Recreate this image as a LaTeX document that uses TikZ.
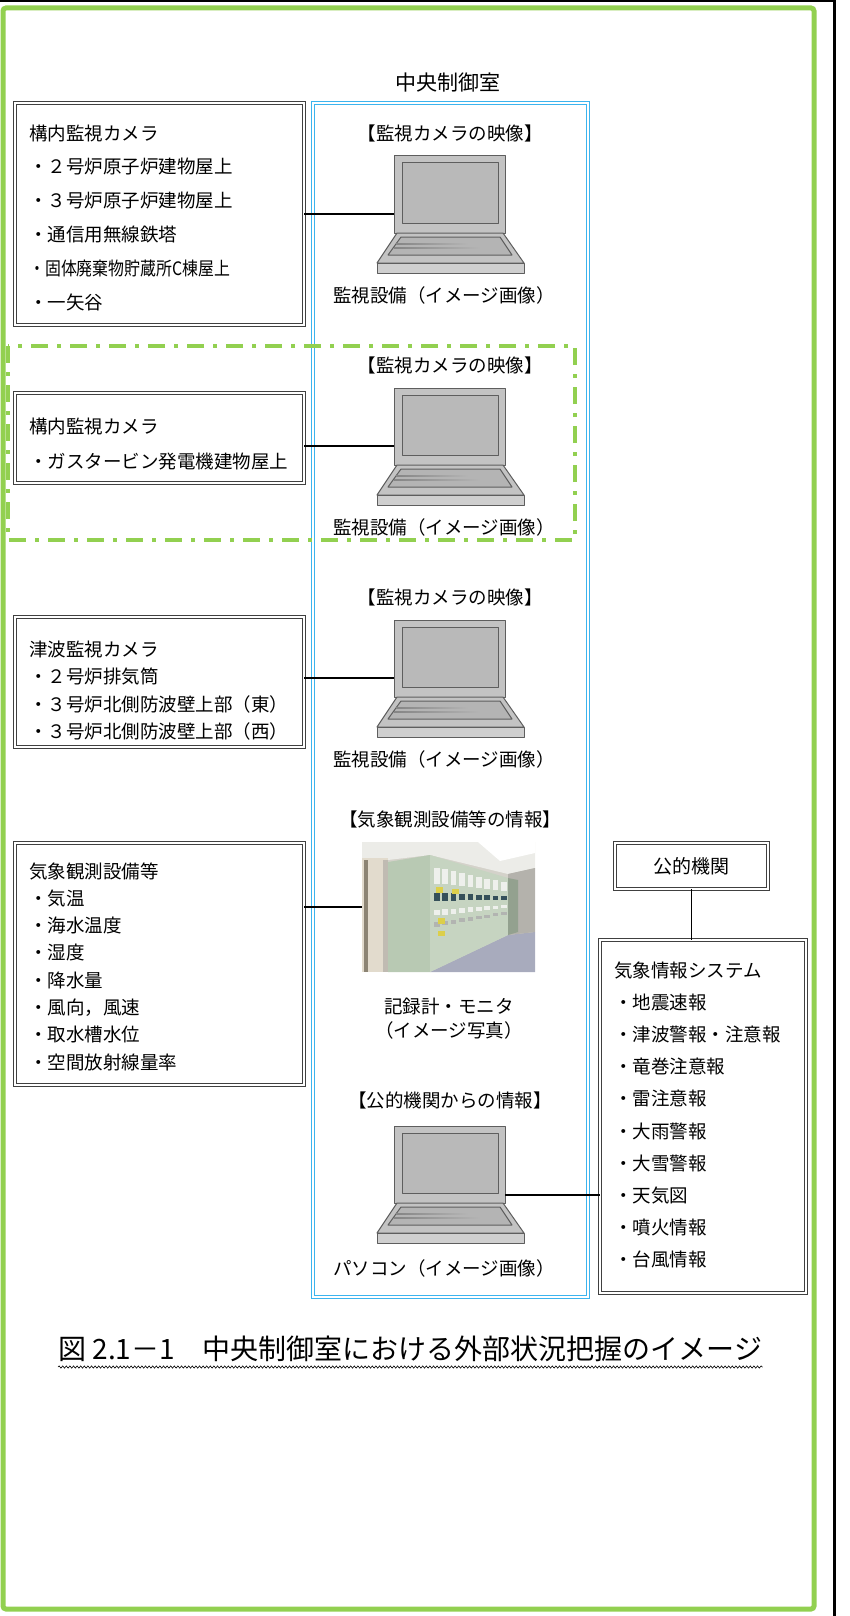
\documentclass[tikz,border=0pt]{standalone}
\usepackage{fontspec}
\usepackage{graphicx}
\setmainfont{Noto Sans CJK JP}
\usetikzlibrary{decorations.pathmorphing}
\definecolor{framegreen}{HTML}{92D050}
\definecolor{roomblue}{HTML}{3CB4EE}
\definecolor{laptopgray}{HTML}{C3C3C3}
\definecolor{screengray}{HTML}{B9B9B9}
\definecolor{keygray}{HTML}{B4B4B4}
\definecolor{plategray}{HTML}{CFCFCF}
\definecolor{laptopline}{HTML}{5E5E5E}
\definecolor{streakgray}{HTML}{858585}
\definecolor{ceilwhite}{HTML}{ECECE8}
\definecolor{wallbeige}{HTML}{E2DBCD}
\definecolor{doorbrown}{HTML}{8C8474}
\definecolor{photowall}{HTML}{D4D2CA}
\definecolor{floorblue}{HTML}{A8ABBD}
\definecolor{cabside}{HTML}{B8C9B3}
\definecolor{cabface}{HTML}{C6D4C1}
\definecolor{meterwhite}{HTML}{EEF0EC}
\definecolor{switchdark}{HTML}{35505A}
\definecolor{stickeryellow}{HTML}{DCCF4A}
\begin{document}
\begin{tikzpicture}[x=1pt, y=-1pt,
    boxtext/.style={anchor=west, inner sep=0pt, font=\fontsize{18.5pt}{22pt}\selectfont},
    imgtext/.style={inner sep=0pt, font=\fontsize{18.5pt}{22pt}\selectfont},
    listbox/.style={draw=black!75, double=white, double distance=2.2pt, line width=1.1pt, inner sep=0pt, outer sep=0pt},
    roombox/.style={draw=roomblue, double=white, double distance=1.8pt, line width=1.1pt, inner sep=0pt, outer sep=0pt},
    link/.style={line width=1.6pt},
    laptop/.style={draw=laptopline, fill=laptopgray, line width=1pt, line join=round},
    wavy/.style={decorate, decoration={snake, amplitude=1.1pt, segment length=3.6pt}, line width=0.6pt}]
  \useasboundingbox (0,0) rectangle (849,1616);
  \def \textleft{29};
  \def \infoleft{614};

  % Draw the page frame.
  \draw[line width=2.5pt] (0,1.2) -- (834,1.2);
  \draw[line width=3pt] (834,0) -- (834,1616);
  \draw[framegreen, line width=5pt, rounded corners=3pt] (3,8) rectangle (814,1609);

  % Draw the control room box.
  \node[roombox, minimum width=275pt, minimum height=1194pt] (room) at (450.5,700) {};
  \node[inner sep=0pt, font=\fontsize{21pt}{24pt}\selectfont] (roomtitle) at (448,83) {中央制御室};

  % Draw the list boxes on the left.
  \node[listbox, minimum width=289pt, minimum height=222pt] (camA) at (159.5,214) {};
  \node[listbox, minimum width=289pt, minimum height=90pt] (camB) at (159.5,438) {};
  \node[listbox, minimum width=289pt, minimum height=130pt] (camC) at (159.5,682) {};
  \node[listbox, minimum width=289pt, minimum height=242pt] (weather) at (159.5,964) {};

  \foreach \t [count=\i] in {構内監視カメラ, ・２号炉原子炉建物屋上, ・３号炉原子炉建物屋上, ・通信用無線鉄塔, {\scalebox{0.86}[1]{・固体廃棄物貯蔵所C棟屋上}}, ・一矢谷} {
    \node[boxtext] (camA-\i) at (\textleft, {133 + 33.8*(\i-1)}) {\t};
  };
  \foreach \t [count=\i] in {構内監視カメラ, ・ガスタービン発電機建物屋上} {
    \node[boxtext] (camB-\i) at (\textleft, {426 + 36*(\i-1)}) {\t};
  };
  \foreach \t [count=\i] in {津波監視カメラ, ・２号炉排気筒, ・３号炉北側防波壁上部（東）, ・３号炉北側防波壁上部（西）} {
    \node[boxtext] (camC-\i) at (\textleft, {649 + 27.5*(\i-1)}) {\t};
  };
  \foreach \t [count=\i] in {気象観測設備等, ・気温, ・海水温度, ・湿度, ・降水量, ・風向，風速, ・取水槽水位, ・空間放射線量率} {
    \node[boxtext] (weather-\i) at (\textleft, {871 + 27.3*(\i-1)}) {\t};
  };

  % Draw the boxes on the right.
  \node[listbox, minimum width=153pt, minimum height=46pt, font=\fontsize{19pt}{22pt}\selectfont] (agency) at (691.5,866) {公的機関};
  \node[listbox, minimum width=206pt, minimum height=353pt] (info) at (703,1116.5) {};
  \foreach \t [count=\i] in {気象情報システム, ・地震速報, ・津波警報・注意報, ・竜巻注意報, ・雷注意報, ・大雨警報, ・大雪警報, ・天気図, ・噴火情報, ・台風情報} {
    \node[boxtext] (info-\i) at (\infoleft, {970 + 32.2*(\i-1)}) {\t};
  };

  % Draw laptops.
  \foreach \y/\lap in {156/A, 388/B, 620/C, 1126/E} {
    \filldraw[laptop] (394,\y) rectangle (505,{\y+77});
    \filldraw[laptop, fill=screengray] (402,{\y+7}) rectangle (498,{\y+67});
    \filldraw[laptop] (397,{\y+77}) -- (503,{\y+77}) -- (524,{\y+107}) -- (377,{\y+107}) -- cycle;
    \filldraw[laptop, fill=keygray] (401,{\y+81}) -- (500,{\y+81}) -- (512,{\y+99}) -- (388,{\y+99}) -- cycle;
    \shade[left color=streakgray, right color=keygray] (396,{\y+87}) rectangle (468,{\y+88.4});
    \shade[left color=streakgray, right color=keygray] (394,{\y+91}) rectangle (480,{\y+92.4});
    \filldraw[laptop, fill=plategray] (377,{\y+107}) rectangle (524,{\y+117});
    \coordinate (lap\lap-l) at (394,{\y+58});
    \coordinate (lap\lap-r) at (505,{\y+69});
  };
  \foreach \y/\lap in {156/A, 388/B, 620/C} {
    \node[imgtext] (head\lap) at (450,{\y-23}) {【監視カメラの映像】};
    \node[imgtext] (cap\lap) at (444,{\y+139}) {監視設備（イメージ画像）};
  };
  \node[imgtext] (headE) at (450,1100) {【公的機関からの情報】};
  \node[imgtext] (capE) at (444,1268) {パソコン（イメージ画像）};

  % Draw the photo of the recorder panels.
  \node[imgtext] (headD) at (450,819) {【気象観測設備等の情報】};
  \begin{scope}
    \clip (362,842) rectangle (535,972);
    \fill[photowall] (362,842) rectangle (535,972);
    \fill[ceilwhite] (362,842) -- (535,842) -- (535,868) -- (508,874) -- (430,855) -- (388,860) -- (362,860) -- cycle;
    \fill[white] (478,842) -- (535,842) -- (535,853) -- (500,861) -- cycle;
    \fill[wallbeige] (362,858) rectangle (388,972);
    \fill[doorbrown] (364,860) rectangle (368,972);
    \fill[doorbrown!55] (383,860) rectangle (388,972);
    \fill[floorblue] (430,972) -- (508,935) -- (535,932) -- (535,972) -- cycle;
    \fill[photowall!85!black] (508,874) -- (535,868) -- (535,932) -- (508,935) -- cycle;
    \fill[cabside] (388,862) -- (430,855) -- (430,972) -- (388,972) -- cycle;
    \fill[cabface] (430,855) -- (508,878) -- (508,935) -- (430,972) -- cycle;
    \fill[cabside!80!black] (508,878) -- (518,880) -- (518,932) -- (508,935) -- cycle;
    \foreach \k in {0,...,8} {
      \pgfmathsetmacro{\xa}{434 + 8.4*\k}
      \pgfmathsetmacro{\ta}{855 + (\xa-430)*23/78}
      \pgfmathsetmacro{\ha}{117 - (\xa-430)*60/78}
      \fill[meterwhite] (\xa,{\ta+0.10*\ha}) rectangle ({\xa+5.5},{\ta+0.24*\ha});
      \fill[switchdark] (\xa,{\ta+0.32*\ha}) rectangle ({\xa+5.5},{\ta+0.39*\ha});
      \fill[meterwhite] (\xa,{\ta+0.47*\ha}) rectangle ({\xa+5.5},{\ta+0.52*\ha});
      \fill[meterwhite!75!black] (\xa,{\ta+0.58*\ha}) rectangle ({\xa+5.5},{\ta+0.62*\ha});
    };
    \foreach \xa/\fa in {436/0.27, 452/0.27, 438/0.55, 438/0.66} {
      \pgfmathsetmacro{\ta}{855 + (\xa-430)*23/78}
      \pgfmathsetmacro{\ha}{117 - (\xa-430)*60/78}
      \fill[stickeryellow] (\xa,{\ta+\fa*\ha}) rectangle ({\xa+7},{\ta+(\fa+0.05)*\ha});
    };
  \end{scope}
  \node[inner sep=0pt, outer sep=0pt, minimum width=173pt, minimum height=130pt] (photo) at (448.5,907) {};
  \node[imgtext] (capD1) at (449,1006) {記録計・モニタ};
  \node[imgtext] (capD2) at (449,1030) {（イメージ写真）};

  % Draw connectors.
  \draw[link] (camA.east |- lapA-l) -- (lapA-l);
  \draw[link] (camB.east |- lapB-l) -- (lapB-l);
  \draw[link] (camC.east |- lapC-l) -- (lapC-l);
  \draw[link] (weather.east |- photo.west) -- (photo.west);
  \draw[link] (lapE-r) -- (lapE-r -| info.west);
  \draw[link] (agency.south) -- (agency.south |- info.north);

  % Draw the dash-dot box round the gas turbine camera.
  \draw[framegreen, line width=4.5pt, dash pattern=on 17pt off 9pt on 4pt off 9pt] (8,346) rectangle (575,540);

  % Draw the figure caption.
  \node[anchor=base west, inner sep=0pt, font=\fontsize{28pt}{32pt}\selectfont] (fig) at (58,1359) {図 2.1－1　中央制御室における外部状況把握のイメージ};
  \draw[wavy] ([yshift=-8pt]fig.base west) -- ([yshift=-8pt]fig.base east);
\end{tikzpicture}
\end{document}
